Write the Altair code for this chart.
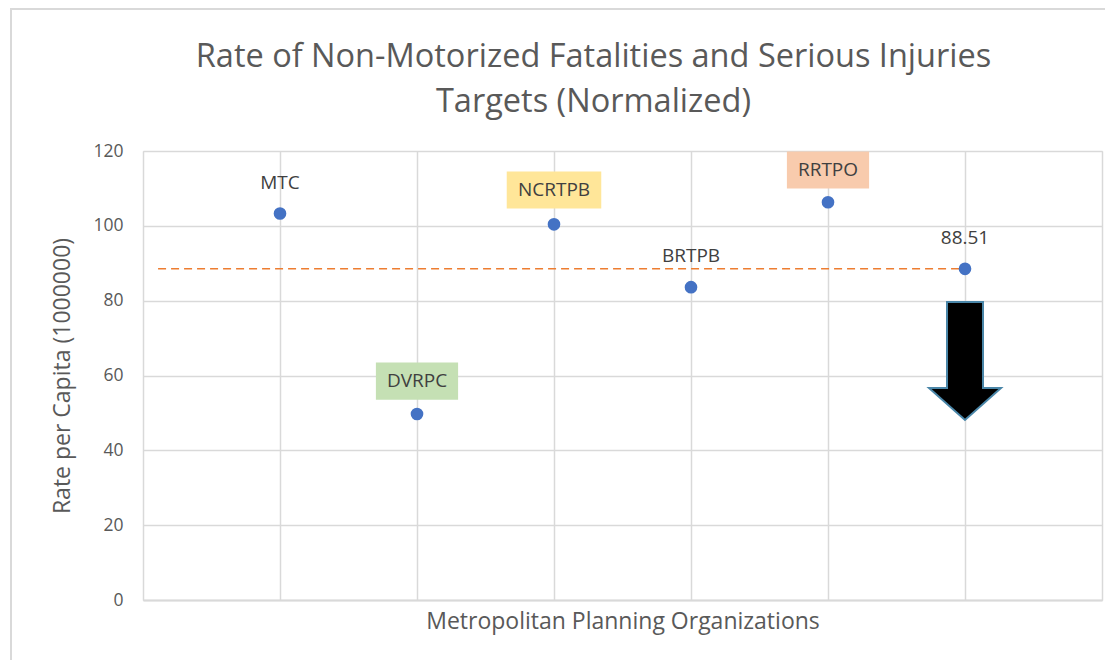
import altair as alt
import pandas as pd

# ---- data ----
orgs = ["MTC", "DVRPC", "NCRTPB", "BRTPB", "RRTPO", "88.51"]
positions = [1, 2, 3, 4, 5, 6]
rates = [103.3, 49.7, 100.4, 83.6, 106.3, 88.51]
label_y = [111.4, 58.5, 109.6, 91.9, 114.9, 96.7]
label_fill = ["none", "#C5E0B4", "#FFE699", "none", "#F8CBAD", "none"]
label_halfwidth = [0.0, 0.30, 0.345, 0.0, 0.30, 0.0]
label_halfheight = 4.95

target_value = 88.51
target_x_start = 0.11
target_x_end = 5.96

arrow_x = 6
arrow_center_y = 63.9

FONT = "Open Sans"
GREY = "#595959"
GRID = "#D9D9D9"

df = pd.DataFrame({"org": orgs, "pos": positions, "rate": rates, "ly": label_y,
                   "fill": label_fill, "hw": label_halfwidth})
df["x1"] = df["pos"] - df["hw"]
df["x2"] = df["pos"] + df["hw"]
df["y1"] = df["ly"] - label_halfheight
df["y2"] = df["ly"] + label_halfheight

xs = alt.Scale(domain=[0, 7], nice=False, zero=False)
ys = alt.Scale(domain=[0, 120], nice=False)

base = alt.Chart(df)

frame = alt.Chart(pd.DataFrame({"a": [0]})).mark_rect(
    fill="white", fillOpacity=0, stroke=GRID, strokeWidth=2, clip=False
).encode(x=alt.value(-132), x2=alt.value(985), y=alt.value(-142), y2=alt.value(560))

boxes = base.transform_filter(alt.datum.hw > 0).mark_rect().encode(
    x=alt.X("x1:Q", scale=xs),
    x2="x2:Q",
    y=alt.Y("y1:Q", scale=ys),
    y2="y2:Q",
    fill=alt.Fill("fill:N", scale=None),
)

target = alt.Chart(pd.DataFrame({"xa": [target_x_start], "xb": [target_x_end], "y": [target_value]})).mark_rule(
    color="#ED7D31", strokeWidth=1.5, strokeDash=[8, 5]
).encode(x=alt.X("xa:Q", scale=xs), x2="xb:Q", y=alt.Y("y:Q", scale=ys))

points = base.mark_circle(size=160, color="#4472C4", opacity=1).encode(
    x=alt.X("pos:Q", scale=xs,
            axis=alt.Axis(values=list(range(0, 8)), grid=True, gridColor=GRID, gridWidth=1.5,
                          labels=False, ticks=False, domain=True, domainColor=GRID, domainWidth=2,
                          title="Metropolitan Planning Organizations", titleFont=FONT,
                          titleFontSize=23, titleFontWeight="normal", titleColor=GREY,
                          titleX=479.5, titleY=21, titleBaseline="middle", titleAlign="center")),
    y=alt.Y("rate:Q", scale=ys,
            axis=alt.Axis(values=list(range(0, 121, 20)), grid=True, gridColor=GRID, gridWidth=1.5,
                          domain=False, ticks=False, labelPadding=20, labelFont=FONT,
                          labelFontSize=17.5, labelColor=GREY,
                          title="Rate per Capita (1000000)", titleFont=FONT, titleFontSize=23,
                          titleFontWeight="normal", titleColor=GREY, titleAngle=270,
                          titleX=-81, titleY=224.5, titleBaseline="middle", titleAlign="center")),
)

labels = base.mark_text(font=FONT, fontSize=19, color="#404040", baseline="middle", align="center").encode(
    x=alt.X("pos:Q", scale=xs), y=alt.Y("ly:Q", scale=ys), text="org:N"
)

arrow_path = "M -0.305 -1 L 0.305 -1 L 0.305 0.458 L 0.61 0.458 L 0 1 L -0.61 0.458 L -0.305 0.458 Z"
arrow_shadow = alt.Chart(pd.DataFrame({"x": [arrow_x], "y": [arrow_center_y]})).mark_point(
    shape=arrow_path, size=13924, filled=True, fill="#000000", opacity=0.18, strokeWidth=0, dy=4, dx=2
).encode(x=alt.X("x:Q", scale=xs), y=alt.Y("y:Q", scale=ys))
arrow = alt.Chart(pd.DataFrame({"x": [arrow_x], "y": [arrow_center_y]})).mark_point(
    shape=arrow_path, size=13924, filled=True, fill="black", stroke="#4A86A8", strokeWidth=2, opacity=1
).encode(x=alt.X("x:Q", scale=xs), y=alt.Y("y:Q", scale=ys))

chart = alt.layer(frame, target, boxes, points, labels, arrow_shadow, arrow).properties(
    width=959, height=449,
    autosize=alt.AutoSizeParams(type="none"),
    padding={"left": 135, "top": 143, "right": 3, "bottom": 60},
    title=alt.TitleParams(
        text=["Rate of Non-Motorized Fatalities and Serious Injuries", "Targets (Normalized)"],
        font=FONT, fontSize=32.5, fontWeight="normal", color=GREY, anchor="middle",
        frame="group", dx=-29, offset=-136, baseline="alphabetic", lineHeight=45,
    ),
).configure_view(stroke=None).configure(background="white")

chart.save("out.html", embed_options={"renderer": "svg", "actions": False})
